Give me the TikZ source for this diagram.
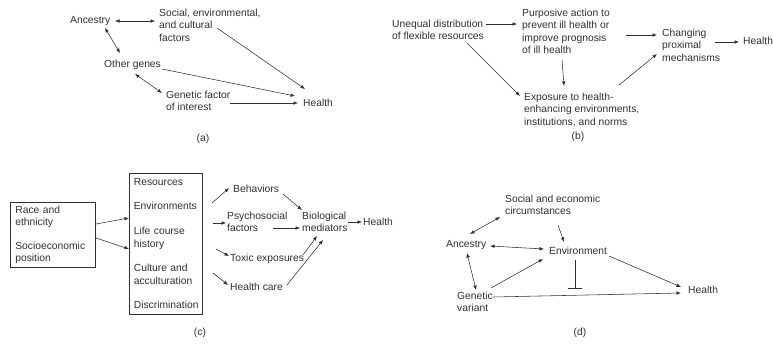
\documentclass[tikz,border=0pt]{standalone}
\usepackage{fontspec}
\setmainfont{Liberation Sans}
\usetikzlibrary{arrows.meta,calc}
\definecolor{ink}{HTML}{303030}
\tikzset{
  txt/.style={inner sep=0pt, anchor=north west, align=left, text=ink,
    font=\fontsize{10.3}{12.3}\selectfont},
  panellabel/.style={inner sep=0pt, text=ink, font=\fontsize{10.3}{12.3}\selectfont},
  boxnode/.style={draw=ink, line width=0.7pt, anchor=north west, align=left,
    text=ink, font=\fontsize{10.3}{12.3}\selectfont, inner ysep=0pt},
  arr/.style={draw=ink, line width=0.55pt, -{Latex[length=4.5pt,width=3.6pt]}},
  biarr/.style={draw=ink, line width=0.55pt, {Latex[length=4.5pt,width=3.6pt]}-{Latex[length=4.5pt,width=3.6pt]}},
  inhib/.style={draw=ink, line width=0.55pt, -{Bar[width=14pt]}}
}
\begin{document}
\begin{tikzpicture}[x=1pt,y=-1pt]
\useasboundingbox (0,0) rectangle (773,345);
% ---------- panel (a)
\node[txt] (aAnc) at (70,16) {Ancestry};
\node[txt] (aSoc) at (159,9) {Social, environmental,\\and cultural\\factors};
\node[txt] (aOth) at (104,60) {Other genes};
\node[txt] (aGen) at (166,91) {Genetic factor\\of interest};
\node[txt] (aHea) at (303,99) {Health};
\node[panellabel] (aLab) at (203,139) {(a)};
\draw[biarr] ($(aAnc.north west)+(45,5)$) -- ($(aSoc.north west)+(-4,12)$);
\draw[biarr] ($(aAnc.north west)+(35,12)$) -- ($(aOth.north west)+(16,-7)$);
\draw[arr] ($(aSoc.north west)+(58,19)$) -- ($(aHea.north west)+(2,-10)$);
\draw[arr] ($(aOth.north west)+(58,9)$) -- ($(aHea.north west)+(-8,-3)$);
\draw[biarr] ($(aOth.north west)+(31,14)$) -- ($(aGen.north west)+(-4,2)$);
\draw[arr] ($(aGen.north west)+(64,12)$) -- ($(aHea.north west)+(-5,4)$);
% ---------- panel (b)
\node[txt] (bUne) at (392,20) {Unequal distribution\\of flexible resources};
\node[txt] (bPur) at (522,9) {Purposive action to\\prevent ill health or\\improve prognosis\\of ill health};
\node[txt] (bCha) at (662,29) {Changing\\proximal\\mechanisms};
\node[txt] (bHea) at (743,37) {Health};
\node[txt] (bExp) at (524,93) {Exposure to health-\\enhancing environments,\\institutions, and norms};
\node[panellabel] (bLab) at (578,137) {(b)};
\draw[arr] ($(bUne.north west)+(94,4)$) -- ($(bPur.north west)+(-5,15)$);
\draw[arr] ($(bPur.north west)+(104,26)$) -- ($(bCha.north west)+(-5,6)$);
\draw[arr] ($(bCha.north west)+(53,13)$) -- ($(bHea.north west)+(-4,5)$);
\draw[arr] ($(bUne.north west)+(75,23)$) -- ($(bExp.north west)+(-4,3)$);
\draw[arr] ($(bPur.north west)+(40,51)$) -- ($(bExp.north west)+(40,-7)$);
\draw[arr] ($(bExp.north west)+(95,-8)$) -- ($(bCha.north west)+(-5,25)$);
% ---------- panel (c)
\node[boxnode, inner xsep=5pt, text width=75pt, minimum height=65pt] (cLeft) at (10,202)
  {Race and\\ethnicity\\[11.5pt]Socioeconomic\\position};
\node[boxnode, inner xsep=4.5pt, text width=64pt, minimum height=141pt] (cMid) at (129,173)
  {Resources\\[12pt]Environments\\[12.5pt]Life course\\history\\[12.5pt]Culture and\\acculturation\\[12.5pt]Discrimination};
\node[txt] (cBeh) at (233,185) {Behaviors};
\node[txt] (cPsy) at (227,212) {Psychosocial\\factors};
\node[txt] (cTox) at (230,254) {Toxic exposures};
\node[txt] (cHc) at (230,283) {Health care};
\node[txt] (cBio) at (302,212) {Biological\\mediators};
\node[txt] (cHea) at (363,218) {Health};
\node[panellabel] (cLab) at (200,333) {(c)};
\draw[arr] ($(cLeft.north west)+(86,22)$) -- ($(cMid.north west)+(0,45)$);
\draw[arr] ($(cLeft.north west)+(86,36)$) -- ($(cMid.north west)+(0,76)$);
\draw[arr] ($(cMid.north west)+(83,30)$) -- ($(cBeh.north west)+(-4,3)$);
\draw[arr] ($(cMid.north west)+(84,50)$) -- ($(cPsy.north west)+(-1,11)$);
\draw[arr] ($(cMid.north west)+(87,76)$) -- ($(cTox.north west)+(-1,2)$);
\draw[arr] ($(cMid.north west)+(84,100)$) -- ($(cHc.north west)+(-2,2)$);
\draw[arr] ($(cBeh.north west)+(50,9)$) -- ($(cBio.north west)+(0,-2)$);
\draw[arr] ($(cPsy.north west)+(46,16)$) -- ($(cBio.north west)+(-2,16)$);
\draw[arr] ($(cTox.north west)+(73,1)$) -- ($(cBio.north west)+(15,24)$);
\draw[arr] ($(cHc.north west)+(57,2)$) -- ($(cBio.north west)+(21,28)$);
\draw[arr] ($(cBio.north west)+(46,10)$) -- ($(cHea.north west)+(-1,4)$);
% ---------- panel (d)
\node[txt] (dSoc) at (505,195) {Social and economic\\circumstances};
\node[txt] (dAnc) at (446,240) {Ancestry};
\node[txt] (dEnv) at (549,247) {Environment};
\node[txt] (dGen) at (457,292) {Genetic\\variant};
\node[txt] (dHea) at (688,286) {Health};
\node[panellabel] (dLab) at (580,333) {(d)};
\coordinate (dT) at ($(dEnv.north west)+(26,42)$);
\draw[biarr] ($(dAnc.north west)+(24,-6)$) -- ($(dSoc.north west)+(-5,22)$);
\draw[arr] ($(dSoc.north west)+(53,30)$) -- ($(dEnv.north west)+(15,-5)$);
\draw[biarr] ($(dAnc.north west)+(44,6)$) -- ($(dEnv.north west)+(-5,2)$);
\draw[biarr] ($(dAnc.north west)+(21,13)$) -- ($(dGen.north west)+(19,-2)$);
\draw[arr] ($(dGen.north west)+(34,-4)$) -- ($(dEnv.north west)+(-6,12)$);
\draw[arr] ($(dEnv.north west)+(60,9)$) -- ($(dHea.north west)+(-7,1)$);
\draw[arr] ($(dGen.north west)+(36,5)$) -- ($(dHea.north west)+(-7,7)$);
\draw[inhib] ($(dEnv.north west)+(26,13)$) -- (dT);
\end{tikzpicture}
\end{document}
